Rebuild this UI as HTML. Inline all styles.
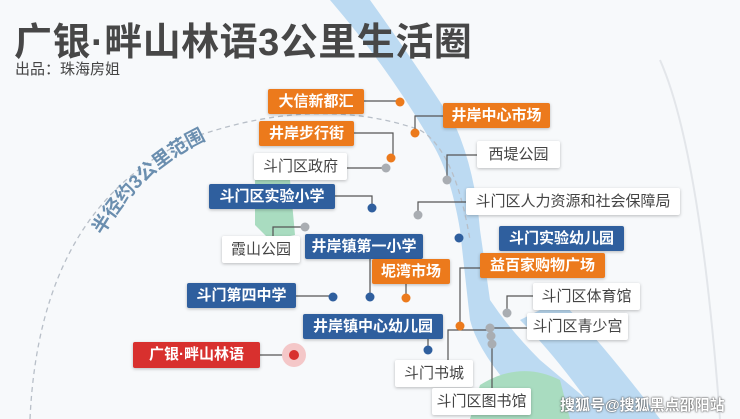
<!DOCTYPE html>
<html><head><meta charset="utf-8"><style>
body{margin:0;width:740px;height:419px;overflow:hidden;background:#f7f9fb;font-family:"Liberation Sans","Noto Sans CJK SC",sans-serif;position:relative}
.l{position:absolute;height:25px;line-height:25px;font-size:15px;font-weight:bold;text-align:center;border-radius:2px;box-shadow:0 1px 3px rgba(0,0,0,.25);white-space:nowrap}
.o{background:#ec7a1c;color:#fff}
.b{background:#2f5f9e;color:#fff}
.w{background:#fff;color:#444;font-weight:normal;height:27px;line-height:27px}
.r{background:#d8302e;color:#fff}
</style></head><body>
<svg width="740" height="419" style="position:absolute;left:0;top:0">
<path d="M330 0 L370 0 Q420 70 455 125 Q475 170 480 230 L490 300 Q510 330 540 360 L610 419 L540 419 Q480 360 470 320 L460 230 Q450 170 430 140 Q390 70 330 0 Z" fill="#bcdaf2"/>
<path d="M560 300 Q600 340 660 419 L600 419 Q560 360 520 320 Z" fill="#bcdaf2"/>
<path d="M255 180 L290 180 L295 235 L270 240 L255 225 Z" fill="#a9dcc0"/>
<path d="M480 385 Q520 360 560 380 L570 419 L470 419 Z" fill="#a9dcc0"/>
<path d="M660 60 Q700 150 720 419" stroke="#e3e6ea" stroke-width="2" fill="none"/>
<path d="M30 419 Q40 200 200 135 Q320 95 420 130 Q455 150 470 240" stroke="#b8bfc8" stroke-width="1.3" stroke-dasharray="5,4" fill="none"/>
<path id="tp" d="M100 240 Q150 150 255 122" fill="none"/>
<text font-size="19" font-weight="bold" fill="#6a8eaf" font-family="Liberation Sans,Noto Sans CJK SC,sans-serif"><textPath href="#tp" startOffset="5">半径约3公里范围</textPath></text>
<g stroke="#555" stroke-width="1.2" fill="none">
<path d="M364 101 H400"/><path d="M443 116 H415 V133"/><path d="M354 133 H393 V158"/><path d="M347 168 H386"/>
<path d="M477 155 H447 V180"/><path d="M335 196 H372 V208"/><path d="M466 202 H418 V215"/>
<path d="M305 227 H273 V236"/><path d="M370 258 V297"/><path d="M406 284 V298"/>
<path d="M480 268 H460 V326"/><path d="M296 296 H333"/><path d="M533 296 H507 V313"/>
<path d="M428 339 V350"/><path d="M527 328 H490"/><path d="M260 355 H294"/>
<path d="M490 330 H448 V360"/><path d="M492 340 V388"/>
</g>
<circle cx="294" cy="355" r="12" fill="#f4c7c8"/>
<g>
<circle cx="400" cy="102" r="4.5" fill="#ec7a1c"/><circle cx="415" cy="133" r="4.5" fill="#ec7a1c"/><circle cx="391" cy="158" r="4.5" fill="#ec7a1c"/>
<circle cx="386" cy="168" r="4.5" fill="#a9adb2"/><circle cx="447" cy="180" r="4.5" fill="#a9adb2"/><circle cx="372" cy="208" r="4.5" fill="#2f5f9e"/>
<circle cx="418" cy="215" r="4.5" fill="#a9adb2"/><circle cx="305" cy="227" r="4.5" fill="#a9adb2"/><circle cx="459" cy="238" r="4.5" fill="#2f5f9e"/>
<circle cx="370" cy="297" r="4.5" fill="#2f5f9e"/><circle cx="333" cy="297" r="4.5" fill="#2f5f9e"/><circle cx="406" cy="298" r="4.5" fill="#ec7a1c"/>
<circle cx="460" cy="326" r="4.5" fill="#ec7a1c"/><circle cx="507" cy="313" r="4.5" fill="#a9adb2"/><circle cx="428" cy="350" r="4.5" fill="#2f5f9e"/>
<circle cx="490" cy="328" r="4.5" fill="#a9adb2"/><circle cx="491" cy="336" r="4.5" fill="#a9adb2"/><circle cx="492" cy="344" r="4.5" fill="#a9adb2"/>
<circle cx="294" cy="355" r="5" fill="#d8302e"/>
</g>
</svg>
<div style="position:absolute;left:14px;top:11px;font-size:38px;font-weight:bold;color:#474747;letter-spacing:0.5px">广银·畔山林语3公里生活圈</div>
<div style="position:absolute;left:15px;top:58px;font-size:15px;color:#444">出品：珠海房姐</div>
<div class="l o" style="left:268px;top:89px;width:96px">大信新都汇</div>
<div class="l o" style="left:443px;top:103px;width:107px">井岸中心市场</div>
<div class="l o" style="left:259px;top:121px;width:95px">井岸步行街</div>
<div class="l w" style="left:254px;top:153px;width:93px">斗门区政府</div>
<div class="l w" style="left:477px;top:141px;width:83px">西堤公园</div>
<div class="l b" style="left:209px;top:184px;width:126px">斗门区实验小学</div>
<div class="l w" style="left:466px;top:188px;width:214px">斗门区人力资源和社会保障局</div>
<div class="l w" style="left:222px;top:236px;width:78px">霞山公园</div>
<div class="l b" style="left:305px;top:234px;width:118px">井岸镇第一小学</div>
<div class="l b" style="left:499px;top:226px;width:125px">斗门实验幼儿园</div>
<div class="l o" style="left:372px;top:259px;width:78px">坭湾市场</div>
<div class="l o" style="left:480px;top:253px;width:125px">益百家购物广场</div>
<div class="l b" style="left:187px;top:283px;width:109px">斗门第四中学</div>
<div class="l w" style="left:533px;top:283px;width:107px">斗门区体育馆</div>
<div class="l b" style="left:303px;top:314px;width:140px">井岸镇中心幼儿园</div>
<div class="l w" style="left:527px;top:313px;width:101px">斗门区青少宫</div>
<div class="l r" style="left:133px;top:342px;width:127px;height:26px;line-height:26px">广银·畔山林语</div>
<div class="l w" style="left:395px;top:360px;width:78px">斗门书城</div>
<div class="l w" style="left:432px;top:388px;width:99px">斗门区图书馆</div>
<div style="position:absolute;left:560px;top:394px;font-size:15px;color:#fff;font-weight:bold;text-shadow:0 0 2px #555,0 0 1px #333">搜狐号@搜狐黑点邵阳站</div>
</body></html>
